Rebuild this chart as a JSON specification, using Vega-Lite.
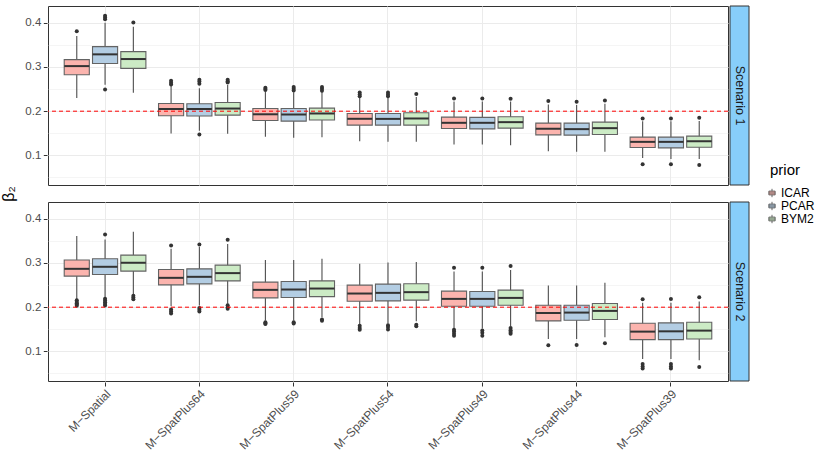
{
  "$schema": "https://vega.github.io/schema/vega-lite/v6.json",
  "background": "white",
  "padding": {"left": 1, "top": 5, "right": 2, "bottom": 2},
  "config": {
    "font": "Liberation Sans",
    "view": {"stroke": "#333333", "strokeWidth": 1},
    "axis": {"domain": false, "labelFont": "Liberation Sans", "labelFontSize": 12, "labelColor": "#4D4D4D", "tickColor": "#333333", "tickSize": 4, "gridColor": "#EBEBEB", "minExtent": 0},
    "legend": {"titleFontWeight": "normal"}
  },
  "datasets": {
    "stats": [
      {"scenario":"Scenario 1","model":"M−Spatial","prior":"ICAR","lower":0.230,"q1":0.2825,"median":0.302,"q3":0.3166,"upper":0.370},
      {"scenario":"Scenario 1","model":"M−Spatial","prior":"PCAR","lower":0.260,"q1":0.308,"median":0.3286,"q3":0.346,"upper":0.400},
      {"scenario":"Scenario 1","model":"M−Spatial","prior":"BYM2","lower":0.242,"q1":0.2968,"median":0.318,"q3":0.3347,"upper":0.391},
      {"scenario":"Scenario 1","model":"M−SpatPlus64","prior":"ICAR","lower":0.1494,"q1":0.1896,"median":0.205,"q3":0.2175,"upper":0.257},
      {"scenario":"Scenario 1","model":"M−SpatPlus64","prior":"PCAR","lower":0.156,"q1":0.189,"median":0.205,"q3":0.2168,"upper":0.252},
      {"scenario":"Scenario 1","model":"M−SpatPlus64","prior":"BYM2","lower":0.149,"q1":0.191,"median":0.206,"q3":0.2197,"upper":0.259},
      {"scenario":"Scenario 1","model":"M−SpatPlus59","prior":"ICAR","lower":0.142,"q1":0.179,"median":0.193,"q3":0.206,"upper":0.244},
      {"scenario":"Scenario 1","model":"M−SpatPlus59","prior":"PCAR","lower":0.1397,"q1":0.1776,"median":0.1925,"q3":0.206,"upper":0.243},
      {"scenario":"Scenario 1","model":"M−SpatPlus59","prior":"BYM2","lower":0.141,"q1":0.18,"median":0.1948,"q3":0.207,"upper":0.244},
      {"scenario":"Scenario 1","model":"M−SpatPlus54","prior":"ICAR","lower":0.132,"q1":0.1685,"median":0.1828,"q3":0.1948,"upper":0.230},
      {"scenario":"Scenario 1","model":"M−SpatPlus54","prior":"PCAR","lower":0.1306,"q1":0.1685,"median":0.1826,"q3":0.1948,"upper":0.230},
      {"scenario":"Scenario 1","model":"M−SpatPlus54","prior":"BYM2","lower":0.1306,"q1":0.1685,"median":0.1835,"q3":0.1964,"upper":0.232},
      {"scenario":"Scenario 1","model":"M−SpatPlus49","prior":"ICAR","lower":0.1245,"q1":0.1608,"median":0.1737,"q3":0.1866,"upper":0.222},
      {"scenario":"Scenario 1","model":"M−SpatPlus49","prior":"PCAR","lower":0.1245,"q1":0.160,"median":0.1737,"q3":0.186,"upper":0.222},
      {"scenario":"Scenario 1","model":"M−SpatPlus49","prior":"BYM2","lower":0.123,"q1":0.1616,"median":0.1752,"q3":0.1873,"upper":0.222},
      {"scenario":"Scenario 1","model":"M−SpatPlus44","prior":"ICAR","lower":0.1095,"q1":0.1465,"median":0.160,"q3":0.173,"upper":0.215},
      {"scenario":"Scenario 1","model":"M−SpatPlus44","prior":"PCAR","lower":0.108,"q1":0.1458,"median":0.1594,"q3":0.173,"upper":0.214},
      {"scenario":"Scenario 1","model":"M−SpatPlus44","prior":"BYM2","lower":0.108,"q1":0.1472,"median":0.1616,"q3":0.1752,"upper":0.217},
      {"scenario":"Scenario 1","model":"M−SpatPlus39","prior":"ICAR","lower":0.094,"q1":0.1177,"median":0.1306,"q3":0.1413,"upper":0.177},
      {"scenario":"Scenario 1","model":"M−SpatPlus39","prior":"PCAR","lower":0.092,"q1":0.117,"median":0.1306,"q3":0.1413,"upper":0.177},
      {"scenario":"Scenario 1","model":"M−SpatPlus39","prior":"BYM2","lower":0.092,"q1":0.1184,"median":0.132,"q3":0.1435,"upper":0.178},
      {"scenario":"Scenario 2","model":"M−Spatial","prior":"ICAR","lower":0.218,"q1":0.2703,"median":0.2868,"q3":0.3068,"upper":0.361},
      {"scenario":"Scenario 2","model":"M−Spatial","prior":"PCAR","lower":0.223,"q1":0.274,"median":0.2914,"q3":0.3095,"upper":0.353},
      {"scenario":"Scenario 2","model":"M−Spatial","prior":"BYM2","lower":0.229,"q1":0.2816,"median":0.3005,"q3":0.3179,"upper":0.3707},
      {"scenario":"Scenario 2","model":"M−SpatPlus64","prior":"ICAR","lower":0.202,"q1":0.2506,"median":0.2664,"q3":0.2853,"upper":0.332},
      {"scenario":"Scenario 2","model":"M−SpatPlus64","prior":"PCAR","lower":0.204,"q1":0.2528,"median":0.2687,"q3":0.2868,"upper":0.336},
      {"scenario":"Scenario 2","model":"M−SpatPlus64","prior":"BYM2","lower":0.208,"q1":0.2596,"median":0.2771,"q3":0.2952,"upper":0.343},
      {"scenario":"Scenario 2","model":"M−SpatPlus59","prior":"ICAR","lower":0.170,"q1":0.221,"median":0.2392,"q3":0.2567,"upper":0.3066},
      {"scenario":"Scenario 2","model":"M−SpatPlus59","prior":"PCAR","lower":0.170,"q1":0.2218,"median":0.240,"q3":0.258,"upper":0.3066},
      {"scenario":"Scenario 2","model":"M−SpatPlus59","prior":"BYM2","lower":0.177,"q1":0.224,"median":0.2422,"q3":0.2596,"upper":0.3095},
      {"scenario":"Scenario 2","model":"M−SpatPlus54","prior":"ICAR","lower":0.162,"q1":0.2136,"median":0.2309,"q3":0.250,"upper":0.2982},
      {"scenario":"Scenario 2","model":"M−SpatPlus54","prior":"PCAR","lower":0.163,"q1":0.2143,"median":0.2324,"q3":0.2522,"upper":0.3013},
      {"scenario":"Scenario 2","model":"M−SpatPlus54","prior":"BYM2","lower":0.168,"q1":0.2159,"median":0.234,"q3":0.2529,"upper":0.302},
      {"scenario":"Scenario 2","model":"M−SpatPlus49","prior":"ICAR","lower":0.153,"q1":0.2022,"median":0.2188,"q3":0.2363,"upper":0.281},
      {"scenario":"Scenario 2","model":"M−SpatPlus49","prior":"PCAR","lower":0.152,"q1":0.2022,"median":0.2188,"q3":0.2355,"upper":0.281},
      {"scenario":"Scenario 2","model":"M−SpatPlus49","prior":"BYM2","lower":0.157,"q1":0.2045,"median":0.221,"q3":0.2385,"upper":0.284},
      {"scenario":"Scenario 2","model":"M−SpatPlus44","prior":"ICAR","lower":0.128,"q1":0.169,"median":0.1871,"q3":0.2045,"upper":0.249},
      {"scenario":"Scenario 2","model":"M−SpatPlus44","prior":"PCAR","lower":0.128,"q1":0.1705,"median":0.1878,"q3":0.2045,"upper":0.249},
      {"scenario":"Scenario 2","model":"M−SpatPlus44","prior":"BYM2","lower":0.132,"q1":0.172,"median":0.1916,"q3":0.2082,"upper":0.2551},
      {"scenario":"Scenario 2","model":"M−SpatPlus39","prior":"ICAR","lower":0.083,"q1":0.1266,"median":0.1447,"q3":0.1637,"upper":0.210},
      {"scenario":"Scenario 2","model":"M−SpatPlus39","prior":"PCAR","lower":0.083,"q1":0.1266,"median":0.1454,"q3":0.1645,"upper":0.210},
      {"scenario":"Scenario 2","model":"M−SpatPlus39","prior":"BYM2","lower":0.080,"q1":0.128,"median":0.147,"q3":0.166,"upper":0.213},

      {"scenario":"Scenario 1","model":"M−Spatial","prior":"ICAR","outlier":0.381},
      {"scenario":"Scenario 1","model":"M−Spatial","prior":"PCAR","outlier":0.416},
      {"scenario":"Scenario 1","model":"M−Spatial","prior":"PCAR","outlier":0.412},
      {"scenario":"Scenario 1","model":"M−Spatial","prior":"PCAR","outlier":0.408},
      {"scenario":"Scenario 1","model":"M−Spatial","prior":"PCAR","outlier":0.249},
      {"scenario":"Scenario 1","model":"M−Spatial","prior":"BYM2","outlier":0.4005},
      {"scenario":"Scenario 1","model":"M−SpatPlus64","prior":"ICAR","outlier":0.269},
      {"scenario":"Scenario 1","model":"M−SpatPlus64","prior":"ICAR","outlier":0.2645},
      {"scenario":"Scenario 1","model":"M−SpatPlus64","prior":"ICAR","outlier":0.2605},
      {"scenario":"Scenario 1","model":"M−SpatPlus64","prior":"PCAR","outlier":0.271},
      {"scenario":"Scenario 1","model":"M−SpatPlus64","prior":"PCAR","outlier":0.267},
      {"scenario":"Scenario 1","model":"M−SpatPlus64","prior":"PCAR","outlier":0.262},
      {"scenario":"Scenario 1","model":"M−SpatPlus64","prior":"PCAR","outlier":0.147},
      {"scenario":"Scenario 1","model":"M−SpatPlus64","prior":"BYM2","outlier":0.271},
      {"scenario":"Scenario 1","model":"M−SpatPlus64","prior":"BYM2","outlier":0.268},
      {"scenario":"Scenario 1","model":"M−SpatPlus64","prior":"BYM2","outlier":0.265},
      {"scenario":"Scenario 1","model":"M−SpatPlus59","prior":"ICAR","outlier":0.253},
      {"scenario":"Scenario 1","model":"M−SpatPlus59","prior":"ICAR","outlier":0.250},
      {"scenario":"Scenario 1","model":"M−SpatPlus59","prior":"ICAR","outlier":0.248},
      {"scenario":"Scenario 1","model":"M−SpatPlus59","prior":"PCAR","outlier":0.2547},
      {"scenario":"Scenario 1","model":"M−SpatPlus59","prior":"PCAR","outlier":0.251},
      {"scenario":"Scenario 1","model":"M−SpatPlus59","prior":"PCAR","outlier":0.247},
      {"scenario":"Scenario 1","model":"M−SpatPlus59","prior":"BYM2","outlier":0.2547},
      {"scenario":"Scenario 1","model":"M−SpatPlus59","prior":"BYM2","outlier":0.2505},
      {"scenario":"Scenario 1","model":"M−SpatPlus59","prior":"BYM2","outlier":0.2465},
      {"scenario":"Scenario 1","model":"M−SpatPlus54","prior":"ICAR","outlier":0.2424},
      {"scenario":"Scenario 1","model":"M−SpatPlus54","prior":"ICAR","outlier":0.238},
      {"scenario":"Scenario 1","model":"M−SpatPlus54","prior":"ICAR","outlier":0.234},
      {"scenario":"Scenario 1","model":"M−SpatPlus54","prior":"PCAR","outlier":0.2424},
      {"scenario":"Scenario 1","model":"M−SpatPlus54","prior":"PCAR","outlier":0.238},
      {"scenario":"Scenario 1","model":"M−SpatPlus54","prior":"PCAR","outlier":0.234},
      {"scenario":"Scenario 1","model":"M−SpatPlus54","prior":"BYM2","outlier":0.2388},
      {"scenario":"Scenario 1","model":"M−SpatPlus49","prior":"ICAR","outlier":0.2289},
      {"scenario":"Scenario 1","model":"M−SpatPlus49","prior":"PCAR","outlier":0.2289},
      {"scenario":"Scenario 1","model":"M−SpatPlus49","prior":"BYM2","outlier":0.2282},
      {"scenario":"Scenario 1","model":"M−SpatPlus44","prior":"ICAR","outlier":0.2229},
      {"scenario":"Scenario 1","model":"M−SpatPlus44","prior":"PCAR","outlier":0.2213},
      {"scenario":"Scenario 1","model":"M−SpatPlus44","prior":"BYM2","outlier":0.2243},
      {"scenario":"Scenario 1","model":"M−SpatPlus39","prior":"ICAR","outlier":0.1835},
      {"scenario":"Scenario 1","model":"M−SpatPlus39","prior":"ICAR","outlier":0.080},
      {"scenario":"Scenario 1","model":"M−SpatPlus39","prior":"PCAR","outlier":0.1835},
      {"scenario":"Scenario 1","model":"M−SpatPlus39","prior":"PCAR","outlier":0.080},
      {"scenario":"Scenario 1","model":"M−SpatPlus39","prior":"BYM2","outlier":0.185},
      {"scenario":"Scenario 1","model":"M−SpatPlus39","prior":"BYM2","outlier":0.078},

      {"scenario":"Scenario 2","model":"M−Spatial","prior":"ICAR","outlier":0.2159},
      {"scenario":"Scenario 2","model":"M−Spatial","prior":"ICAR","outlier":0.212},
      {"scenario":"Scenario 2","model":"M−Spatial","prior":"ICAR","outlier":0.209},
      {"scenario":"Scenario 2","model":"M−Spatial","prior":"ICAR","outlier":0.206},
      {"scenario":"Scenario 2","model":"M−Spatial","prior":"ICAR","outlier":0.2035},
      {"scenario":"Scenario 2","model":"M−Spatial","prior":"PCAR","outlier":0.3646},
      {"scenario":"Scenario 2","model":"M−Spatial","prior":"PCAR","outlier":0.219},
      {"scenario":"Scenario 2","model":"M−Spatial","prior":"PCAR","outlier":0.215},
      {"scenario":"Scenario 2","model":"M−Spatial","prior":"PCAR","outlier":0.211},
      {"scenario":"Scenario 2","model":"M−Spatial","prior":"PCAR","outlier":0.207},
      {"scenario":"Scenario 2","model":"M−Spatial","prior":"PCAR","outlier":0.204},
      {"scenario":"Scenario 2","model":"M−Spatial","prior":"BYM2","outlier":0.226},
      {"scenario":"Scenario 2","model":"M−Spatial","prior":"BYM2","outlier":0.222},
      {"scenario":"Scenario 2","model":"M−Spatial","prior":"BYM2","outlier":0.218},
      {"scenario":"Scenario 2","model":"M−SpatPlus64","prior":"ICAR","outlier":0.3397},
      {"scenario":"Scenario 2","model":"M−SpatPlus64","prior":"ICAR","outlier":0.1946},
      {"scenario":"Scenario 2","model":"M−SpatPlus64","prior":"ICAR","outlier":0.190},
      {"scenario":"Scenario 2","model":"M−SpatPlus64","prior":"ICAR","outlier":0.1855},
      {"scenario":"Scenario 2","model":"M−SpatPlus64","prior":"PCAR","outlier":0.342},
      {"scenario":"Scenario 2","model":"M−SpatPlus64","prior":"PCAR","outlier":0.198},
      {"scenario":"Scenario 2","model":"M−SpatPlus64","prior":"PCAR","outlier":0.194},
      {"scenario":"Scenario 2","model":"M−SpatPlus64","prior":"PCAR","outlier":0.190},
      {"scenario":"Scenario 2","model":"M−SpatPlus64","prior":"BYM2","outlier":0.3525},
      {"scenario":"Scenario 2","model":"M−SpatPlus64","prior":"BYM2","outlier":0.2045},
      {"scenario":"Scenario 2","model":"M−SpatPlus64","prior":"BYM2","outlier":0.200},
      {"scenario":"Scenario 2","model":"M−SpatPlus64","prior":"BYM2","outlier":0.1965},
      {"scenario":"Scenario 2","model":"M−SpatPlus59","prior":"ICAR","outlier":0.166},
      {"scenario":"Scenario 2","model":"M−SpatPlus59","prior":"ICAR","outlier":0.163},
      {"scenario":"Scenario 2","model":"M−SpatPlus59","prior":"ICAR","outlier":0.1618},
      {"scenario":"Scenario 2","model":"M−SpatPlus59","prior":"PCAR","outlier":0.166},
      {"scenario":"Scenario 2","model":"M−SpatPlus59","prior":"PCAR","outlier":0.163},
      {"scenario":"Scenario 2","model":"M−SpatPlus59","prior":"BYM2","outlier":0.172},
      {"scenario":"Scenario 2","model":"M−SpatPlus59","prior":"BYM2","outlier":0.1696},
      {"scenario":"Scenario 2","model":"M−SpatPlus54","prior":"ICAR","outlier":0.158},
      {"scenario":"Scenario 2","model":"M−SpatPlus54","prior":"ICAR","outlier":0.153},
      {"scenario":"Scenario 2","model":"M−SpatPlus54","prior":"ICAR","outlier":0.149},
      {"scenario":"Scenario 2","model":"M−SpatPlus54","prior":"PCAR","outlier":0.159},
      {"scenario":"Scenario 2","model":"M−SpatPlus54","prior":"PCAR","outlier":0.155},
      {"scenario":"Scenario 2","model":"M−SpatPlus54","prior":"PCAR","outlier":0.1495},
      {"scenario":"Scenario 2","model":"M−SpatPlus54","prior":"BYM2","outlier":0.160},
      {"scenario":"Scenario 2","model":"M−SpatPlus54","prior":"BYM2","outlier":0.157},
      {"scenario":"Scenario 2","model":"M−SpatPlus49","prior":"ICAR","outlier":0.289},
      {"scenario":"Scenario 2","model":"M−SpatPlus49","prior":"ICAR","outlier":0.149},
      {"scenario":"Scenario 2","model":"M−SpatPlus49","prior":"ICAR","outlier":0.145},
      {"scenario":"Scenario 2","model":"M−SpatPlus49","prior":"ICAR","outlier":0.140},
      {"scenario":"Scenario 2","model":"M−SpatPlus49","prior":"ICAR","outlier":0.1356},
      {"scenario":"Scenario 2","model":"M−SpatPlus49","prior":"PCAR","outlier":0.289},
      {"scenario":"Scenario 2","model":"M−SpatPlus49","prior":"PCAR","outlier":0.147},
      {"scenario":"Scenario 2","model":"M−SpatPlus49","prior":"PCAR","outlier":0.142},
      {"scenario":"Scenario 2","model":"M−SpatPlus49","prior":"PCAR","outlier":0.1356},
      {"scenario":"Scenario 2","model":"M−SpatPlus49","prior":"BYM2","outlier":0.293},
      {"scenario":"Scenario 2","model":"M−SpatPlus49","prior":"BYM2","outlier":0.1529},
      {"scenario":"Scenario 2","model":"M−SpatPlus49","prior":"BYM2","outlier":0.148},
      {"scenario":"Scenario 2","model":"M−SpatPlus49","prior":"BYM2","outlier":0.144},
      {"scenario":"Scenario 2","model":"M−SpatPlus49","prior":"BYM2","outlier":0.140},
      {"scenario":"Scenario 2","model":"M−SpatPlus44","prior":"ICAR","outlier":0.1138},
      {"scenario":"Scenario 2","model":"M−SpatPlus44","prior":"PCAR","outlier":0.1146},
      {"scenario":"Scenario 2","model":"M−SpatPlus44","prior":"BYM2","outlier":0.1184},
      {"scenario":"Scenario 2","model":"M−SpatPlus39","prior":"ICAR","outlier":0.2181},
      {"scenario":"Scenario 2","model":"M−SpatPlus39","prior":"ICAR","outlier":0.0714},
      {"scenario":"Scenario 2","model":"M−SpatPlus39","prior":"ICAR","outlier":0.066},
      {"scenario":"Scenario 2","model":"M−SpatPlus39","prior":"ICAR","outlier":0.061},
      {"scenario":"Scenario 2","model":"M−SpatPlus39","prior":"PCAR","outlier":0.2188},
      {"scenario":"Scenario 2","model":"M−SpatPlus39","prior":"PCAR","outlier":0.0714},
      {"scenario":"Scenario 2","model":"M−SpatPlus39","prior":"PCAR","outlier":0.066},
      {"scenario":"Scenario 2","model":"M−SpatPlus39","prior":"PCAR","outlier":0.061},
      {"scenario":"Scenario 2","model":"M−SpatPlus39","prior":"BYM2","outlier":0.2226},
      {"scenario":"Scenario 2","model":"M−SpatPlus39","prior":"BYM2","outlier":0.0646}
    ]
  },
  "spacing": 0,
  "hconcat": [
    {
      "data": {"name": "stats"},
      "facet": {
        "row": {
          "field": "scenario", "type": "nominal",
          "header": {"title": "β₂", "titleOrient": "left", "labelExpr": "''", "labelFontSize": 1, "labelPadding": 0, "titleFontSize": 16, "titleFontWeight": "normal", "titleColor": "#000000", "titleFont": "Liberation Sans", "titlePadding": -4}
        }
      },
      "spacing": 15,
      "spec": {
        "width": 680,
        "height": 179,
        "resolve": {"axis": {"y": "independent"}},
        "layer": [
          {
            "transform": [{"filter": "isValid(datum.q1)"}],
            "mark": {"type": "rule", "color": "#4D4D4D", "strokeWidth": 1.1},
            "encoding": {
              "x": {
                "field": "model", "type": "nominal",
                "sort": ["M−Spatial","M−SpatPlus64","M−SpatPlus59","M−SpatPlus54","M−SpatPlus49","M−SpatPlus44","M−SpatPlus39"],
                "scale": {"paddingInner": 0.1, "paddingOuter": 0.155},
                "axis": {"title": null, "labelAngle": -45, "labelAlign": "right", "labelBaseline": "top", "labelPadding": 2, "bandPosition": 0.5, "grid": true, "gridColor": "#EBEBEB", "gridWidth": 1, "tickSize": 4, "labelFontSize": 12, "labelColor": "#4D4D4D"}
              },
              "xOffset": {"field": "prior", "type": "nominal", "sort": ["ICAR","PCAR","BYM2"], "scale": {"paddingInner": 0.113, "paddingOuter": 0.0567}},
              "y": {
                "field": "lower", "type": "quantitative", "title": null,
                "scale": {"domain": [0.033, 0.438], "nice": false, "zero": false},
                "axis": {"orient": "left", "values": [0.1, 0.2, 0.3, 0.4], "format": ".1f", "grid": true, "gridWidth": 1, "labelPadding": 2.5, "tickSize": 3.7, "labelFontSize": 11.5}
              },
              "y2": {"field": "upper"}
            }
          },
          {
            "transform": [{"filter": "isValid(datum.q1)"}],
            "mark": {"type": "bar", "stroke": "#636363", "strokeWidth": 1.1, "opacity": 1},
            "encoding": {
              "x": {"field": "model", "type": "nominal", "sort": ["M−Spatial","M−SpatPlus64","M−SpatPlus59","M−SpatPlus54","M−SpatPlus49","M−SpatPlus44","M−SpatPlus39"], "title": null},
              "xOffset": {"field": "prior", "type": "nominal", "sort": ["ICAR","PCAR","BYM2"]},
              "y": {"field": "q1", "type": "quantitative", "title": null, "axis": null},
              "y2": {"field": "q3"},
              "color": {
                "field": "prior", "type": "nominal",
                "scale": {"domain": ["ICAR","PCAR","BYM2"], "range": ["#FBB4AE","#B3CDE3","#CCEBC5"]},
                "legend": {
                  "title": "prior", "orient": "none", "legendX": 722, "legendY": 157,
                  "symbolType": "M-0.75,-0.45H0.75V0.45H-0.75Z M0,-0.45V-1 M0,0.45V1 M-0.75,0H0.75",
                  "symbolSize": 70, "symbolStrokeColor": "#555555", "symbolStrokeWidth": 0.9, "symbolOpacity": 1, "symbolOffset": -4,
                  "titleFontSize": 15, "titleFontWeight": "normal", "titleColor": "#000000", "titleFont": "Liberation Sans",
                  "labelFontSize": 12, "labelColor": "#000000", "labelFont": "Liberation Sans", "labelOffset": 3, "rowPadding": 1, "titlePadding": 9
                }
              }
            }
          },
          {
            "transform": [{"filter": "isValid(datum.q1)"}],
            "mark": {"type": "tick", "color": "#333333", "thickness": 2, "size": 25, "opacity": 1},
            "encoding": {
              "x": {"field": "model", "type": "nominal", "sort": ["M−Spatial","M−SpatPlus64","M−SpatPlus59","M−SpatPlus54","M−SpatPlus49","M−SpatPlus44","M−SpatPlus39"], "title": null},
              "xOffset": {"field": "prior", "type": "nominal", "sort": ["ICAR","PCAR","BYM2"]},
              "y": {"field": "median", "type": "quantitative", "title": null, "axis": null}
            }
          },
          {
            "transform": [{"filter": "isValid(datum.outlier)"}],
            "mark": {"type": "circle", "color": "#333333", "size": 16, "opacity": 1},
            "encoding": {
              "x": {"field": "model", "type": "nominal", "sort": ["M−Spatial","M−SpatPlus64","M−SpatPlus59","M−SpatPlus54","M−SpatPlus49","M−SpatPlus44","M−SpatPlus39"], "title": null},
              "xOffset": {"field": "prior", "type": "nominal", "sort": ["ICAR","PCAR","BYM2"]},
              "y": {"field": "outlier", "type": "quantitative", "title": null, "axis": {"orient": "left", "values": [0.05, 0.15, 0.25, 0.35], "labels": false, "ticks": false, "domain": false, "grid": true, "gridWidth": 0.5, "gridColor": "#EBEBEB", "title": null}}
            }
          },
          {
            "transform": [{"filter": "datum.model == 'M−Spatial' && datum.prior == 'ICAR' && isValid(datum.q1)"}],
            "mark": {"type": "rule", "color": "#FF0000", "strokeDash": [4, 3], "strokeWidth": 1},
            "encoding": {"y": {"datum": 0.2, "type": "quantitative", "axis": null}}
          }
        ]
      }
    },
    {
      "data": {"name": "stats"},
      "transform": [{"filter": "datum.model == 'M−Spatial' && datum.prior == 'ICAR' && isValid(datum.q1)"}],
      "facet": {"row": {"field": "scenario", "type": "nominal", "header": null}},
      "spacing": 15,
      "spec": {
        "width": 19,
        "height": 179,
        "layer": [
          {"mark": {"type": "rect", "fill": "#87CEFA", "stroke": "#333333", "strokeWidth": 1}, "encoding": {}},
          {"mark": {"type": "text", "angle": 90, "fontSize": 12.5, "color": "#1A1A1A", "font": "Liberation Sans"}, "encoding": {"text": {"field": "scenario"}}}
        ]
      }
    }
  ]
}
